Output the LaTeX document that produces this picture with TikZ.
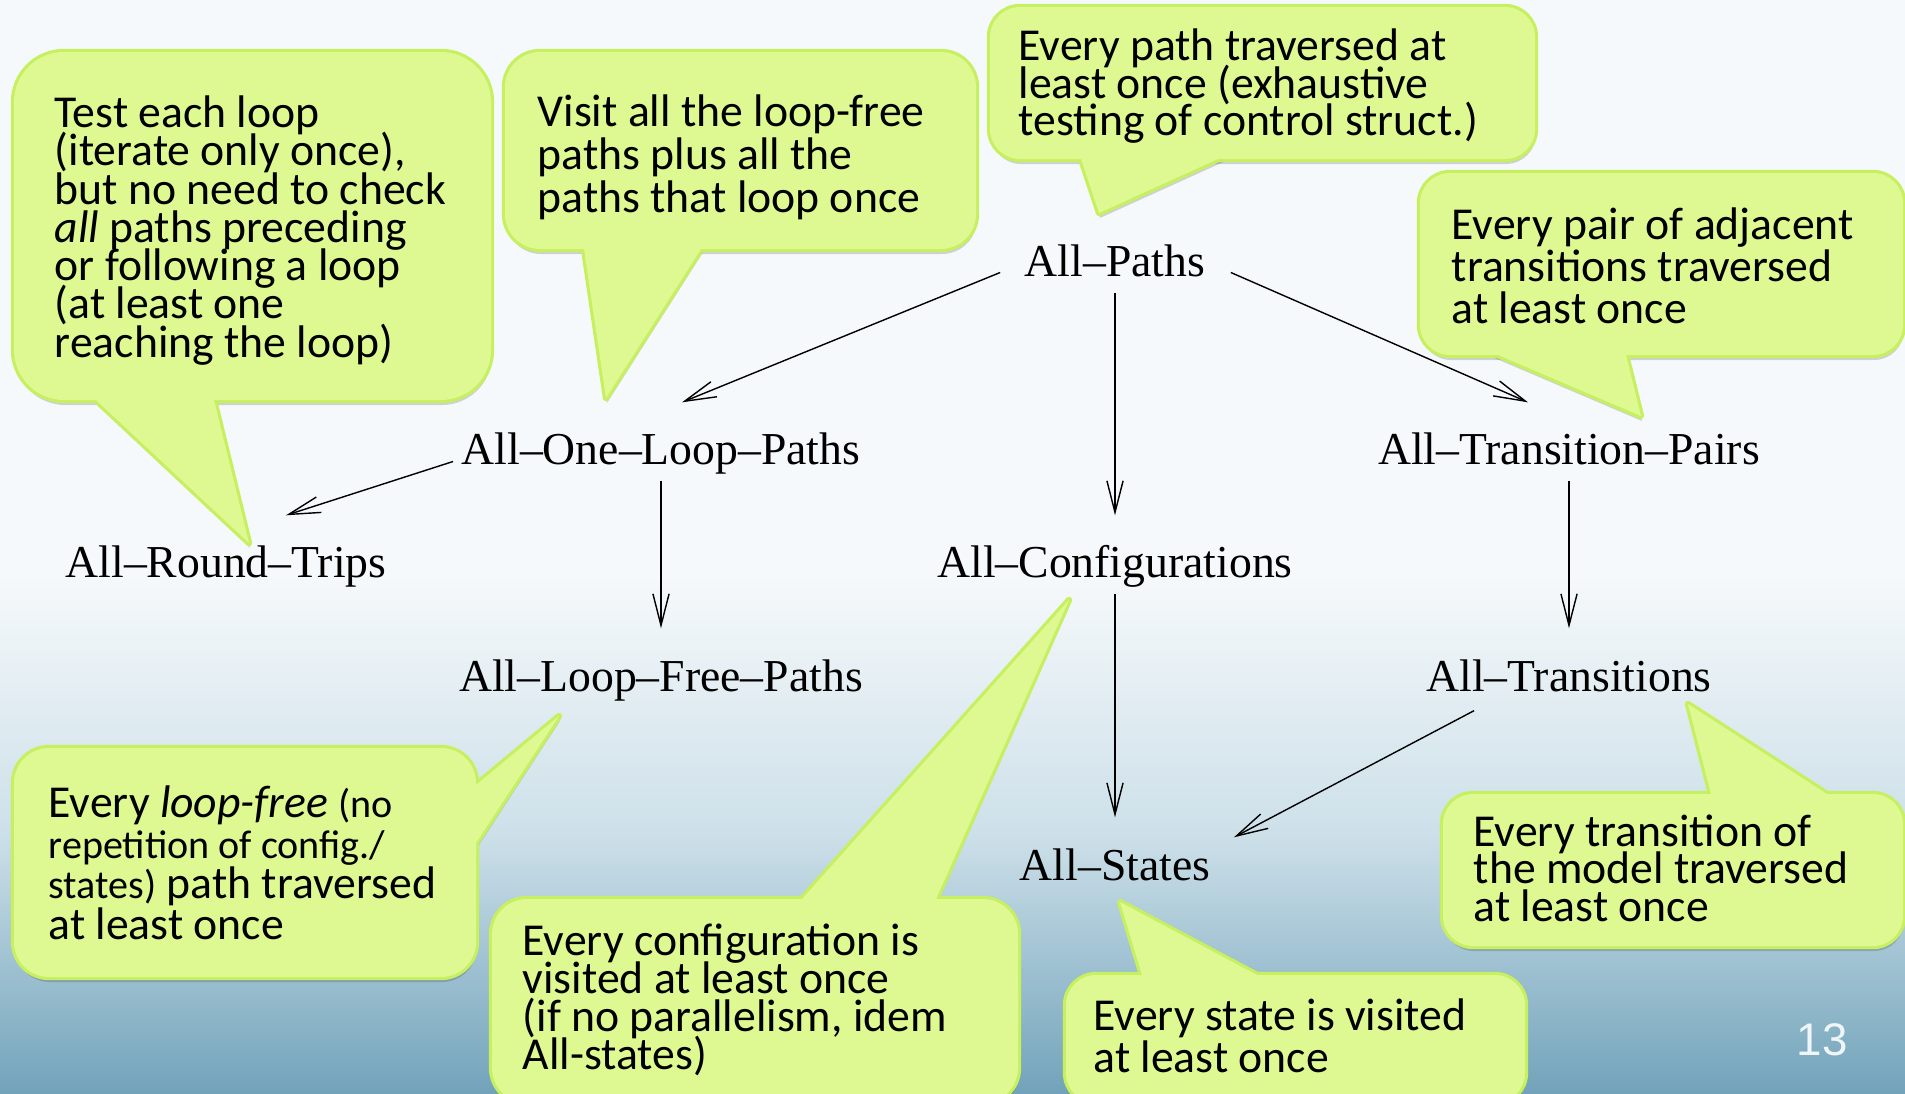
\documentclass[tikz,border=0pt]{standalone}
\usepackage{fontspec}
\setmainfont{Liberation Serif}
\setsansfont{Carlito}
\newfontfamily\numfont{Liberation Sans}
\usetikzlibrary{arrows.meta,calc,positioning}
\tikzset{>={Straight Barb[length=9pt,width=4.6pt]}}
\definecolor{bubblefill}{RGB}{222,248,146}
\definecolor{bubbleline}{RGB}{198,240,96}
\definecolor{bgtop}{RGB}{246,249,251}
\definecolor{bgmid}{RGB}{205,224,233}
\definecolor{bgbottom}{RGB}{114,163,186}
\definecolor{slidenum}{RGB}{240,245,248}
\lineskiplimit=-100pt
\tikzset{
	crit/.style={font=\fontsize{13}{15}\selectfont, inner sep=0.06cm, text height=0.31cm, text depth=0.1cm, anchor=base},
	note/.style={font=\sffamily\fontsize{13}{#1}\selectfont, align=left, anchor=north west, inner sep=0pt},
	bubbleedge/.style={draw=bubbleline, line width=1.8pt, line join=round},
	bubbleshadow/.style={fill=black, opacity=0.16, xshift=0.01cm, yshift=-0.05cm},
}
\newcommand{\smallish}{\fontsize{11.4}{11.6}\selectfont}
% rounded box plus its pointer: radius, corner, corner, tip, base, base
\newcommand{\speech}[6]{%
	\fill[bubbleshadow, rounded corners=#1] (#2) rectangle (#3);
	\fill[bubbleshadow] ($(#4)!1.15!(#5)$) -- (#4) -- ($(#4)!1.15!(#6)$) -- cycle;
	\draw[bubbleedge, rounded corners=#1] (#2) rectangle (#3);
	\draw[bubbleedge] ($(#4)!1.15!(#5)$) -- (#4) -- ($(#4)!1.15!(#6)$) -- cycle;
	\fill[bubblefill, rounded corners=#1] (#2) rectangle (#3);
	\fill[bubblefill] ($(#4)!1.15!(#5)$) -- (#4) -- ($(#4)!1.15!(#6)$) -- cycle;
}

\begin{document}
\begin{tikzpicture}
		\useasboundingbox (0,0) rectangle (19.05,10.93);
		\fill[bgtop] (0,0) rectangle (19.05,10.93);
		\shade[top color=bgtop, bottom color=bgmid] (0,2.6) rectangle (19.05,5.2);
		\shade[top color=bgmid, bottom color=bgbottom] (0,0) rectangle (19.05,2.6);
		% callouts
		\speech{0.5cm}{0.14,6.93}{4.91,10.41}{2.49,5.50}{0.96,6.93}{2.14,6.93}
		\speech{0.35cm}{5.05,8.44}{9.76,10.41}{6.06,6.95}{5.84,8.44}{7.01,8.44}
		\speech{0.3cm}{9.90,9.34}{15.35,10.86}{10.99,8.80}{10.81,9.34}{12.18,9.34}
		\speech{0.3cm}{14.20,7.38}{19.03,9.20}{16.41,6.77}{14.98,7.38}{16.26,7.38}
		\speech{0.35cm}{0.14,1.16}{4.76,3.45}{5.59,3.77}{4.76,3.08}{4.76,2.50}
		\speech{0.35cm}{4.92,-0.1}{10.18,1.94}{10.69,4.93}{8.02,1.94}{9.36,1.94}
		\speech{0.3cm}{10.66,-0.1}{15.25,1.18}{11.20,1.91}{11.42,1.18}{12.57,1.18}
		\speech{0.3cm}{14.43,1.47}{19.03,2.99}{16.88,3.89}{17.11,2.99}{18.27,2.99}
		\node[note=10.9pt] (t1) at (0.54,9.98) {Test each loop\\(iterate only once),\\but no need to check\\\textit{all} paths preceding\\or following a loop\\(at least one\\reaching the loop)};
		\node[note=12.2pt] (t2) at (5.37,9.99) {Visit all the loop-free\\paths plus all the\\paths that loop once};
		\node[note=10.7pt] (t3) at (10.18,10.65) {Every path traversed at\\least once (exhaustive\\testing of control struct.)};
		\node[note=11.9pt] (t4) at (14.51,8.86) {Every pair of adjacent\\transitions traversed\\at least once};
		\node[note=11.6pt] (t5) at (0.48,3.08) {Every \textit{loop-free} {\smallish(no}\\{\smallish repetition of config./}\\{\smallish states)} path traversed\\at least once};
		\node[note=10.8pt] (t6) at (5.22,1.70) {Every configuration is\\visited at least once\\(if no parallelism, idem\\All-states)};
		\node[note=12.1pt] (t7) at (10.93,0.95) {Every state is visited\\at least once};
		\node[note=10.7pt] (t8) at (14.73,2.79) {Every transition of\\the model traversed\\at least once};
		\node[font=\numfont\fontsize{13}{16}\selectfont, text=slidenum] (num) at (18.22,0.53) {13};
		% criteria
		\node[crit] (paths) at (11.15,8.17) {All--Paths};
		\node[crit] (oneloop) at (6.61,6.29) {All--One--Loop--Paths};
		\node[crit] (round) at (2.26,5.16) {All--Round--Trips};
		\node[crit] (config) at (11.15,5.16) {All--Configurations};
		\node[crit] (loopfree) at (6.61,4.02) {All--Loop--Free--Paths};
		\node[crit] (pairs) at (15.69,6.29) {All--Transition--Pairs};
		\node[crit] (trans) at (15.69,4.02) {All--Transitions};
		\node[crit] (states) at (11.15,2.13) {All--States};
		\draw[->] ($(paths.west)+(-0.18,-0.07)$) -- ($(oneloop.north)+(0.21,0.24)$);
		\draw[->] (paths.south) -- ($(config.north)+(0,0.24)$);
		\draw[->] ($(paths.east)+(0.19,-0.07)$) -- ($(pairs.north)+(-0.41,0.24)$);
		\draw[->] ($(oneloop.west)+(-0.02,-0.08)$) -- ($(round.north)+(0.6,0.24)$);
		\draw[->] (oneloop.south) -- ($(loopfree.north)+(0,0.25)$);
		\draw[->] (pairs.south) -- ($(trans.north)+(0,0.25)$);
		\draw[->] (config.south) -- ($(states.north)+(0,0.25)$);
		\draw[->] ($(trans.south)+(-0.95,-0.03)$) -- ($(states.north east)+(0.17,0.05)$);
	\end{tikzpicture}
\end{document}
